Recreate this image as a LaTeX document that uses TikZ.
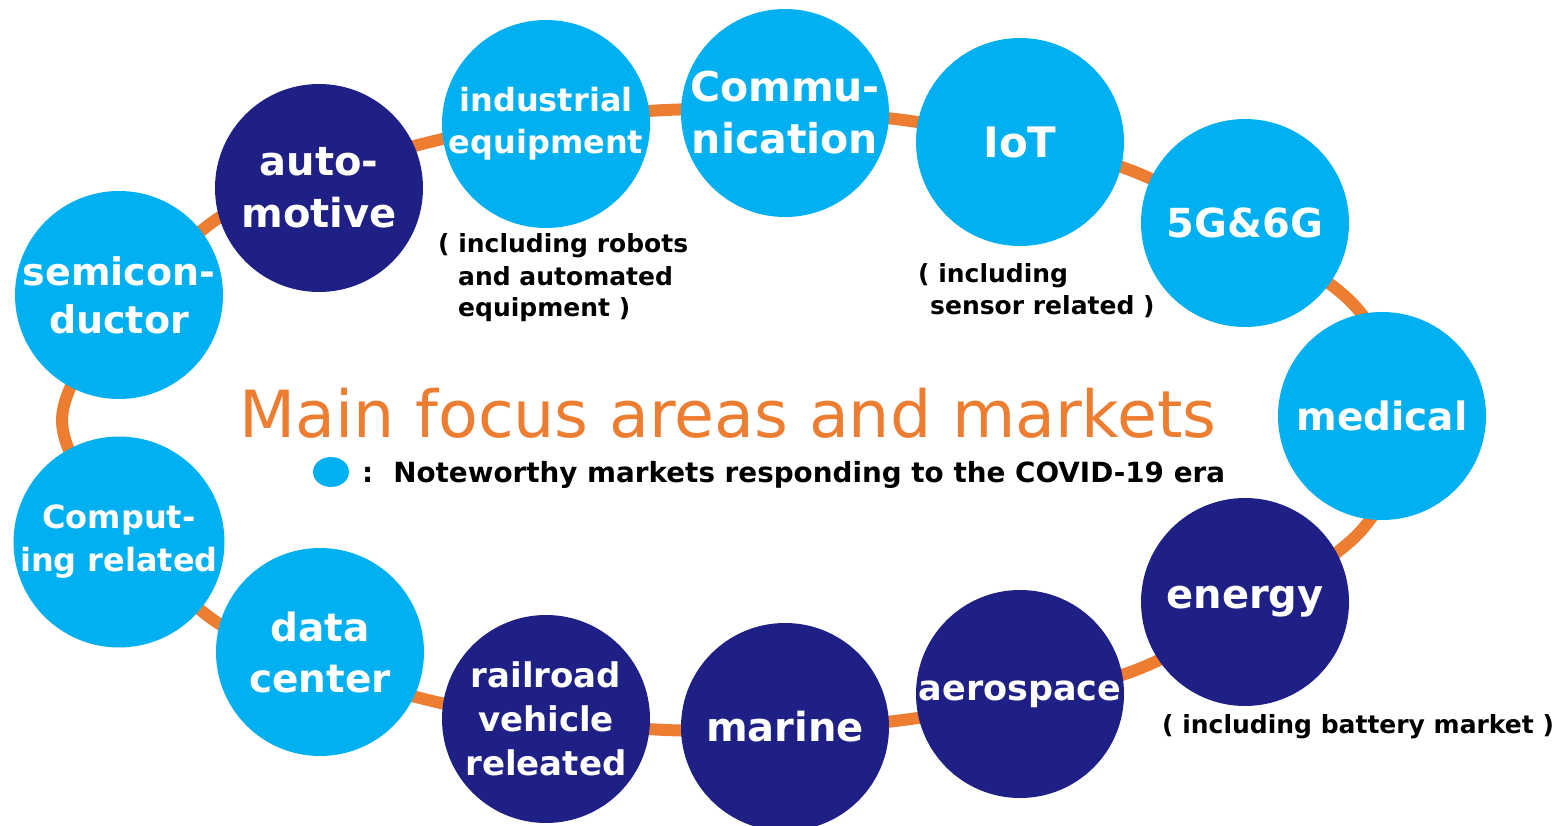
\documentclass[tikz,border=0pt]{standalone}
\usepackage{fontspec}
\setmainfont{DejaVu Sans}
\usepackage{xcolor}
\usetikzlibrary{shapes.geometric}
\definecolor{skyblue}{RGB}{0,176,240}
\definecolor{navyblue}{RGB}{31,32,134}
\definecolor{ringorange}{RGB}{237,125,49}
\newcommand{\fs}[1]{\fontsize{#1}{#1}\selectfont}
\tikzset{
  market/.style={circle, minimum size=208pt, inner sep=0pt, text=white, align=center},
  covid/.style={market, fill=skyblue},
  other/.style={market, fill=navyblue},
  note/.style={inner sep=0pt, align=left, font=\bfseries\fontsize{25}{32}\selectfont},
  ring/.style={draw=ringorange, line width=12pt}
}

\begin{document}
\begin{tikzpicture}[x=1pt,y=-1pt]
		\useasboundingbox (0,0) rectangle (1556,826);
		\foreach \x/\y [count=\i] in {210/224,430/142,666/110,903/120,1135/172,1347/298,1400/418,1355/537,1141/668,903/720,666/730,428/700,208/616,62/420}
			\coordinate (r\i) at (\x,\y);
		\draw[ring] plot[smooth cycle] coordinates {(r1) (r2) (r3) (r4) (r5) (r6) (r7) (r8) (r9) (r10) (r11) (r12) (r13) (r14)};
		\node[covid, font=\bfseries\fontsize{38}{48}\selectfont] (semi) at (119,295) {semicon-\\ductor};
		\node[other, font=\bfseries\fontsize{40}{52}\selectfont] (auto) at (319,188) {auto-\\motive};
		\node[covid, font=\bfseries\fontsize{32}{42}\selectfont] (indus) at (546,124) {industrial\\equipment};
		\node[covid, font=\bfseries\fontsize{41}{52}\selectfont] (comm) at (785,113) {Commu-\\nication};
		\node[covid, font=\bfseries\fs{42}] (iot) at (1020,142) {IoT};
		\node[covid, font=\bfseries\fs{40}] (fiveg) at (1245,223) {5G\&6G};
		\node[covid, font=\bfseries\fs{39}] (medi) at (1382,416) {medical};
		\node[other, font=\bfseries\fs{40}] (energy) at (1245,602) {energy};
		\node[other, font=\bfseries\fs{35}] (aero) at (1020,694) {aerospace};
		\node[other, font=\bfseries\fs{40}] (marine) at (785,727) {marine};
		\node[other, font=\bfseries\fontsize{34}{44}\selectfont] (rail) at (546,719) {railroad\\vehicle\\releated};
		\node[covid, font=\bfseries\fontsize{39}{51}\selectfont] (data) at (320,652) {data\\center};
		\node[covid, font=\bfseries\fontsize{32}{43}\selectfont] (comp) at (119,542) {Comput-\\ing related};
		\node[note, anchor=base west] (robots) at (438,317) {( including robots\\\hspace{20pt}and automated\\\hspace{20pt}equipment )};
		\node[note, anchor=base west] (sensor) at (918,315) {( including\\\hspace{12pt}sensor related )};
		\node[note, anchor=base west] (battery) at (1162,733) {( including battery market )};
		\node[text=ringorange, font=\fs{65}, inner sep=0pt] (title) at (728,413) {Main focus areas and markets};
		\node[ellipse, fill=skyblue, minimum width=36pt, minimum height=30pt, inner sep=0pt] (legdot) at (331,472) {};
		\node[anchor=base west, inner sep=0pt, font=\bfseries\fs{27.8}] (legtext) at (362,482) {:\hspace{20pt}Noteworthy markets responding to the COVID-19 era};
	\end{tikzpicture}
\end{document}
